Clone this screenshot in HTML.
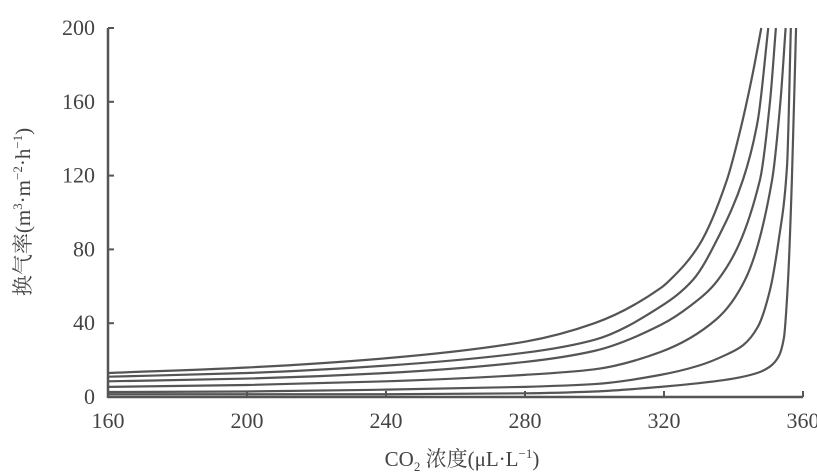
<!DOCTYPE html>
<html><head><meta charset="utf-8"><style>
html,body{margin:0;padding:0;background:#fff;}
svg{display:block;font-family:"Liberation Serif","Noto Serif CJK SC",serif;}
</style></head><body>
<svg id="chart" width="817" height="475">
<g id="axes"></g><g id="curves"></g>
<text x="30" y="212" transform="rotate(-90 30 212)" text-anchor="middle" font-size="21" fill="#444">换气率(m<tspan font-size="13" dy="-8">3</tspan><tspan dy="8">·m</tspan><tspan font-size="13" dy="-8">−2</tspan><tspan dy="8">·h</tspan><tspan font-size="13" dy="-8">−1</tspan><tspan dy="8">)</tspan></text>
<text x="462" y="466" text-anchor="middle" font-size="21" fill="#444">CO<tspan font-size="13" dy="5">2</tspan><tspan dy="-5"> 浓度(μL·L</tspan><tspan font-size="13" dy="-8">−1</tspan><tspan dy="8">)</tspan></text>
</svg>
<script>
const xTicks=[160,200,240,280,320,360];
const yTicks=[0,40,80,120,160,200];
const c1x=[160,200,240,280,300,319,321.7,330,338.1,342,345.5,348];
const c1y=[13,16,21,30,40,59,63.4,82,117.6,145,175,200];
const c2x=[160,200,240,280,300,319,328.3,336,342.7,347,350];
const c2y=[11,13,17,24,31,49,63.4,88,117.6,150,200];
const c3x=[160,200,240,280,300,319,328,335.5,347.6,350.5,352.2];
const c3y=[8.5,10,13,19,25,39,50,63.4,117.6,160,200];
const c4x=[160,200,240,280,300,319,335,343.3,351.1,353.5,355];
const c4y=[5.5,6.5,8.5,12,15,24.4,42,63.4,117.6,160,200];
const c5x=[160,200,240,280,300,319,330,338,342.7,347,350.5,353,355.4,356.5];
const c5y=[2.7,3,4,5.5,7,12,17,23,28,38,58,85,125,200];
const c6x=[160,200,240,280,300,319,330,340,346.8,350.5,353,354.5,355.7,356.8,358];
const c6y=[1.5,1.5,1.5,2,3,5.5,7.5,10,13,16.5,22,32,63.4,117.6,200];
const seriesX=[c1x,c2x,c3x,c4x,c5x,c6x];
const seriesY=[c1y,c2y,c3y,c4y,c5y,c6y];
const X=v=>108+(v-160)*3.475;
const Y=v=>397-v*1.845;
const NS="http://www.w3.org/2000/svg";
const axes=document.getElementById('axes'), cg=document.getElementById('curves');
function mk(tag,attrs,parent){const e=document.createElementNS(NS,tag);for(const k in attrs)e.setAttribute(k,attrs[k]);parent.appendChild(e);return e;}
const xl=mk('line',{x1:X(160),y1:Y(0),x2:X(360),y2:Y(0),stroke:'#555','stroke-width':2.5},axes);


const yl=mk('line',{x1:X(160),y1:Y(0)+1,x2:X(160),y2:Y(200),stroke:'#555','stroke-width':2.5},axes);


xTicks.forEach(v=>{
  mk('line',{x1:X(v),y1:Y(0),x2:X(v),y2:Y(0)-6,stroke:'#555','stroke-width':2},axes);
  const t=mk('text',{x:X(v),y:428,'text-anchor':'middle','font-size':22,fill:'#444'},axes);
  t.textContent=v;
  
  
});
yTicks.forEach(v=>{
  mk('line',{x1:X(160),y1:Y(v),x2:X(160)+6,y2:Y(v),stroke:'#555','stroke-width':2},axes);
  const t=mk('text',{x:95,y:Y(v)+7,'text-anchor':'end','font-size':22,fill:'#444'},axes);
  t.textContent=v;
  
  
});
function pathFor(xs,ys){
  const px=xs.map(X), py=ys.map(Y), n=px.length;
  const d=[],m=new Array(n);
  for(let i=0;i<n-1;i++)d.push((py[i+1]-py[i])/(px[i+1]-px[i]));
  m[0]=d[0];m[n-1]=d[n-2];
  for(let i=1;i<n-1;i++){
    if(d[i-1]*d[i]<=0)m[i]=0;
    else{const h0=px[i]-px[i-1],h1=px[i+1]-px[i];const w1=2*h1+h0,w2=h1+2*h0;m[i]=(w1+w2)/(w1/d[i-1]+w2/d[i]);}
  }
  let s='M'+px[0]+','+py[0];
  for(let i=0;i<n-1;i++){
    const h=(px[i+1]-px[i])/3;
    s+=' C'+(px[i]+h)+','+(py[i]+m[i]*h)+' '+(px[i+1]-h)+','+(py[i+1]-m[i+1]*h)+' '+px[i+1]+','+py[i+1];
  }
  return s;
}
seriesX.forEach((xs,i)=>{
  const el=mk('path',{d:pathFor(xs,seriesY[i]),fill:'none',stroke:'#555','stroke-width':2.2},cg);
  
  
});
</script>
</body></html>
